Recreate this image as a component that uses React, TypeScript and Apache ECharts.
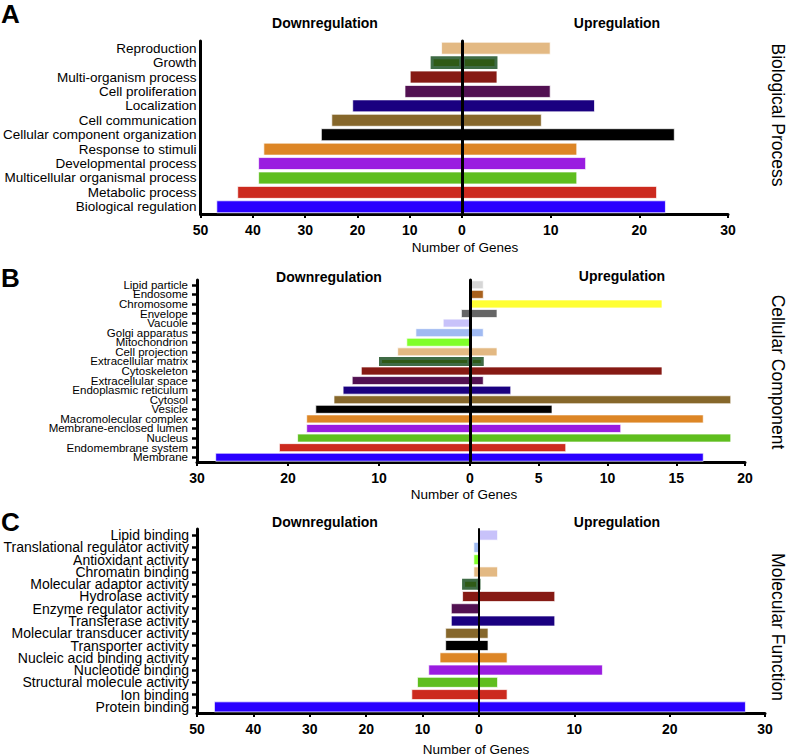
import React, { useEffect, useRef } from "react";
import * as echarts from "echarts";

const FONT = "Liberation Sans, Arial, Helvetica, sans-serif";

// Colours
const C = {
  blue: "#2a00ff",
  red: "#cc2a1e",
  green: "#5fbe1e",
  purple: "#9a1ce0",
  orange: "#dd8626",
  black: "#000000",
  brown: "#86672b",
  navy: "#1a0080",
  darkpurple: "#521152",
  darkred: "#861a14",
  darkgreen: "#2f5a16",
  tan: "#e3b983",
  brightgreen: "#80ff2a",
  lightblue: "#a0baf2",
  lavender: "#c8c2fa",
  gray: "#666666",
  yellow: "#ffff33",
  endosome: "#a8611e",
  lightgray: "#d6d6d6",
};

// Panel A: Biological Process (top to bottom)
const bpCategories = [
  "Reproduction",
  "Growth",
  "Multi-organism process",
  "Cell proliferation",
  "Localization",
  "Cell communication",
  "Cellular component organization",
  "Response to stimuli",
  "Developmental process",
  "Multicellular organismal process",
  "Metabolic process",
  "Biological regulation",
];
const bpDown = [4, 6, 10, 11, 21, 25, 27, 38, 39, 39, 43, 47];
const bpUp = [10, 4, 4, 10, 15, 9, 24, 13, 14, 13, 22, 23];
const bpColors = [
  C.tan, C.darkgreen, C.darkred, C.darkpurple, C.navy, C.brown,
  C.black, C.orange, C.purple, C.green, C.red, C.blue,
];
const bpDownTicks = [0, 10, 20, 30, 40, 50];
const bpUpTicks = [0, 10, 20, 30];

// Panel B: Cellular Component
const ccCategories = [
  "Lipid particle",
  "Endosome",
  "Chromosome",
  "Envelope",
  "Vacuole",
  "Golgi apparatus",
  "Mitochondrion",
  "Cell projection",
  "Extracellular matrix",
  "Cytoskeleton",
  "Extracellular space",
  "Endoplasmic reticulum",
  "Cytosol",
  "Vesicle",
  "Macromolecular complex",
  "Membrane-enclosed lumen",
  "Nucleus",
  "Endomembrane system",
  "Membrane",
];
const ccDown = [0, 0, 0, 1, 3, 6, 7, 8, 10, 12, 13, 14, 15, 17, 18, 18, 19, 21, 28];
const ccUp = [1, 1, 14, 2, 0, 1, 0, 2, 1, 14, 1, 3, 19, 6, 17, 11, 19, 7, 17];
const ccColors = [
  C.lightgray, C.endosome, C.yellow, C.gray, C.lavender, C.lightblue,
  C.brightgreen, C.tan, C.darkgreen, C.darkred, C.darkpurple, C.navy,
  C.brown, C.black, C.orange, C.purple, C.green, C.red, C.blue,
];
const ccDownTicks = [0, 10, 20, 30];
const ccUpTicks = [0, 5, 10, 15, 20];

// Panel C: Molecular Function
const mfCategories = [
  "Lipid binding",
  "Translational regulator activity",
  "Antioxidant activity",
  "Chromatin binding",
  "Molecular adaptor activity",
  "Hydrolase activity",
  "Enzyme regulator activity",
  "Transferase activity",
  "Molecular transducer activity",
  "Transporter activity",
  "Nucleic acid binding activity",
  "Nucleotide binding",
  "Structural molecule activity",
  "Ion binding",
  "Protein binding",
];
const mfDown = [0, 1, 1, 1, 3, 3, 5, 5, 6, 6, 7, 9, 11, 12, 47];
const mfUp = [2, 0, 0, 2, 0, 8, 0, 8, 1, 1, 3, 13, 2, 3, 28];
const mfColors = [
  C.lavender, C.lightblue, C.brightgreen, C.tan, C.darkgreen, C.darkred,
  C.darkpurple, C.navy, C.brown, C.black, C.orange, C.purple, C.green,
  C.red, C.blue,
];
const mfDownTicks = [0, 10, 20, 30, 40, 50];
const mfUpTicks = [0, 10, 20, 30];

interface PanelCfg {
  categories: string[];
  down: number[];
  up: number[];
  colors: string[];
  downTicks: number[];
  upTicks: number[];
  left: number;
  zero: number;
  right: number;
  top: number;
  bottom: number;
  labelSize: number;
  labelMargin: number;
  showYTicks: boolean;
  gap: string;
  zeroWidth: number;
}

const panels: PanelCfg[] = [
  {
    categories: bpCategories, down: bpDown, up: bpUp, colors: bpColors,
    downTicks: bpDownTicks, upTicks: bpUpTicks,
    left: 197, zero: 462, right: 728, top: 41, bottom: 214,
    labelSize: 13.5, labelMargin: 4, showYTicks: false, gap: "10%", zeroWidth: 3,
  },
  {
    categories: ccCategories, down: ccDown, up: ccUp, colors: ccColors,
    downTicks: ccDownTicks, upTicks: ccUpTicks,
    left: 197, zero: 470, right: 745, top: 280, bottom: 462,
    labelSize: 11.5, labelMargin: 9, showYTicks: true, gap: "6%", zeroWidth: 3,
  },
  {
    categories: mfCategories, down: mfDown, up: mfUp, colors: mfColors,
    downTicks: mfDownTicks, upTicks: mfUpTicks,
    left: 197, zero: 479, right: 765, top: 529, bottom: 713,
    labelSize: 14, labelMargin: 8, showYTicks: true, gap: "10%", zeroWidth: 2,
  },
];

function barItems(values: number[], colors: string[]) {
  return values.map((v, i) => {
    const col = colors[i];
    const isDG = col === C.darkgreen;
    return {
      value: v,
      itemStyle: {
        color: col,
        borderColor: isDG ? "#3f6b45" : "rgba(255,255,255,0.7)",
        borderWidth: isDG ? 3 : 1,
      },
    };
  });
}

function buildOption() {
  const grid: any[] = [];
  const xAxis: any[] = [];
  const yAxis: any[] = [];
  const series: any[] = [];

  panels.forEach((p) => {
    const lIdx = grid.length;
    grid.push({ left: p.left, top: p.top, width: p.zero - p.left, height: p.bottom - p.top });
    const rIdx = grid.length;
    grid.push({ left: p.zero, top: p.top, width: p.right - p.zero, height: p.bottom - p.top });

    const dStep = p.downTicks[1] - p.downTicks[0];
    const uStep = p.upTicks[1] - p.upTicks[0];
    const axisLabel = { color: "#000", fontFamily: FONT, fontWeight: "bold", fontSize: 14, margin: 9 };
    xAxis.push({
      type: "value", gridIndex: lIdx, inverse: true, min: 0,
      max: p.downTicks[p.downTicks.length - 1], interval: dStep,
      axisLine: { show: true, onZero: false, lineStyle: { color: "#000", width: 3 } },
      axisTick: { show: true, length: 4, lineStyle: { color: "#000", width: 2 } },
      axisLabel: { ...axisLabel, formatter: (v: number) => (v === 0 ? "" : String(v)) },
      splitLine: { show: false },
    });
    xAxis.push({
      type: "value", gridIndex: rIdx, min: 0,
      max: p.upTicks[p.upTicks.length - 1], interval: uStep,
      axisLine: { show: true, onZero: false, lineStyle: { color: "#000", width: 3 } },
      axisTick: { show: true, length: 4, lineStyle: { color: "#000", width: 2 } },
      axisLabel: { ...axisLabel },
      splitLine: { show: false },
    });
    const lY = yAxis.length;
    yAxis.push({
      type: "category", gridIndex: lIdx, data: p.categories, inverse: true, position: "left",
      axisLine: { show: true, onZero: false, lineStyle: { color: "#000", width: 3 } },
      axisTick: { show: p.showYTicks, alignWithLabel: true, length: 5, lineStyle: { color: "#000", width: 2.5 } },
      axisLabel: {
        color: "#000", fontFamily: FONT, fontSize: p.labelSize, margin: p.labelMargin,
        interval: 0, lineHeight: p.labelSize,
      },
      splitLine: { show: false },
    });
    const rY = yAxis.length;
    yAxis.push({
      type: "category", gridIndex: rIdx, data: p.categories, inverse: true, position: "left",
      axisLine: { show: true, onZero: false, lineStyle: { color: "#000", width: p.zeroWidth } },
      axisTick: { show: false },
      axisLabel: { show: false },
      splitLine: { show: false },
      z: 5,
    });

    series.push({
      type: "bar", xAxisIndex: lIdx, yAxisIndex: lY, barCategoryGap: p.gap,
      data: barItems(p.down, p.colors), z: 2,
    });
    series.push({
      type: "bar", xAxisIndex: rIdx, yAxisIndex: rY, barCategoryGap: p.gap,
      data: barItems(p.up, p.colors), z: 2,
    });
  });

  const txt = (
    text: string, x: number, y: number, size: number, bold: boolean,
    align: string = "center", rotation: number = 0
  ) => ({
    type: "text", x, y, rotation, z: 10,
    style: {
      text, fill: "#000", font: `${bold ? "bold " : ""}${size}px ${FONT}`,
      textAlign: align, textVerticalAlign: "middle",
    },
  });

  const graphic = [
    txt("A", 1, 14, 26, true, "left"),
    txt("B", 1, 278, 26, true, "left"),
    txt("C", 1, 522, 26, true, "left"),
    txt("Downregulation", 325, 23, 14, true),
    txt("Upregulation", 617, 23, 14, true),
    txt("Downregulation", 329, 277, 14, true),
    txt("Upregulation", 622, 276, 14, true),
    txt("Downregulation", 325, 522, 14, true),
    txt("Upregulation", 617, 522, 14, true),
    txt("Number of Genes", 465, 247, 13.5, false),
    txt("Number of Genes", 464, 494, 13.5, false),
    txt("Number of Genes", 476, 749, 13.5, false),
    txt("Biological Process", 778, 115, 17.5, false, "center", -Math.PI / 2),
    txt("Cellular Component", 778, 372, 17.5, false, "center", -Math.PI / 2),
    txt("Molecular Function", 778, 627, 17.5, false, "center", -Math.PI / 2),
  ];

  return {
    animation: false,
    backgroundColor: "#ffffff",
    grid, xAxis, yAxis, series, graphic,
  };
}

export default function App() {
  const ref = useRef<HTMLDivElement>(null);
  useEffect(() => {
    if (!ref.current) return;
    const chart = echarts.init(ref.current, undefined, { renderer: "svg" });
    chart.setOption(buildOption() as any);
    return () => chart.dispose();
  }, []);
  return (
    <div
      ref={ref}
      style={{ position: "fixed", left: 0, top: 0, width: 789, height: 756, background: "#fff" }}
    />
  );
}
